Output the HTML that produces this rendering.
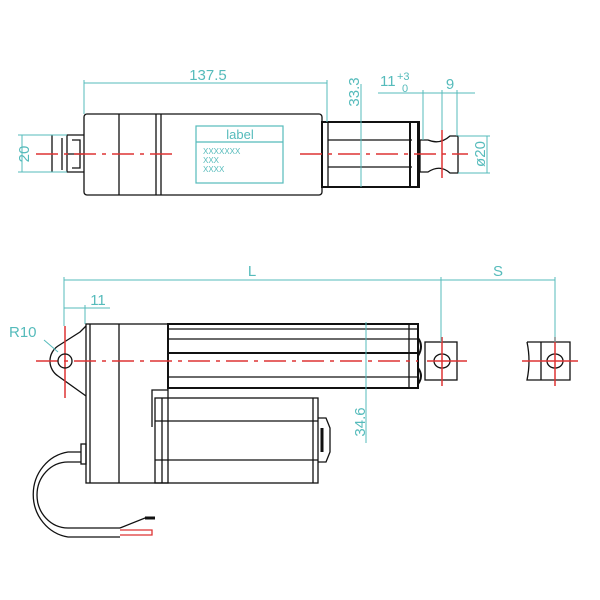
<!DOCTYPE html>
<html><head><style>body{margin:0;background:#fff}svg{display:block}</style></head><body>
<svg width="600" height="600" viewBox="0 0 600 600" xmlns="http://www.w3.org/2000/svg" font-family="Liberation Sans, sans-serif">
<rect width="600" height="600" fill="#fff"/>
<g stroke="#111" stroke-width="1.3" fill="none">
<!-- TOP VIEW -->
<rect x="84" y="114" width="238" height="81" rx="3"/>
<line x1="119" y1="114" x2="119" y2="195"/>
<line x1="156" y1="114" x2="156" y2="195"/>
<line x1="161" y1="114" x2="161" y2="195"/>
<path d="M84 135 H67 V172 H84 M72 140 H80 V168 H72 M62 138 V170 M52 135 V172"/>
<line x1="67" y1="154" x2="84" y2="154"/>
<rect x="322" y="122" width="96" height="65" stroke-width="2"/>
<line x1="328" y1="122" x2="328" y2="187"/>
<line x1="328" y1="140" x2="412" y2="140"/>
<line x1="328" y1="167" x2="412" y2="167"/>
<rect x="410" y="122" width="9" height="65" stroke-width="2"/>
<path d="M420 140 H428 Q440 145 450 136 H458 V173 H450 Q440 164 428 172 H420 Z"/>
<!-- BOTTOM VIEW -->
<path d="M86 326 L80 332 L58 346 A18 18 0 0 0 58 376 L86 396"/>
<rect x="86" y="324" width="82" height="159"/>
<line x1="90" y1="324" x2="90" y2="483"/>
<line x1="119" y1="324" x2="119" y2="483"/>
<rect x="168" y="324" width="250" height="64" stroke-width="2"/>
<line x1="168" y1="329" x2="418" y2="329"/>
<line x1="168" y1="339" x2="418" y2="339"/>
<line x1="168" y1="353" x2="418" y2="353" stroke-width="2"/>
<line x1="168" y1="377" x2="418" y2="377"/>
<line x1="409" y1="324" x2="409" y2="388"/>
<path d="M418 338 Q424 346 418 356 M418 368 Q424 376 418 384" stroke-width="2"/>
<rect x="425" y="342" width="32" height="38"/>
<ellipse cx="442" cy="361" rx="8" ry="7"/>
<rect x="155" y="398" width="163" height="85"/>
<line x1="162" y1="398" x2="162" y2="483"/>
<line x1="313" y1="398" x2="313" y2="483"/>
<line x1="155" y1="421" x2="318" y2="421"/>
<line x1="155" y1="460" x2="318" y2="460"/>
<path d="M152 427 V390 H168"/>
<path d="M318 418 H326 L330 428 V452 L326 462 H318"/>
<line x1="322" y1="428" x2="322" y2="452" stroke-width="3"/>
<path d="M527 342 H570 V380 H527 Q531 361 527 342"/>
<line x1="541" y1="342" x2="541" y2="380"/>
<ellipse cx="555" cy="361" rx="8" ry="7"/>
<!-- cable -->
<rect x="81" y="444" width="5" height="20"/>
<path d="M81 452 H68 A41 43 0 0 0 68 537 H120"/>
<path d="M81 462 H68 A31 33 0 0 0 68 528 H120"/>
<path d="M120 528 L145 518 H155" />
<line x1="145" y1="518" x2="155" y2="518" stroke-width="3"/>
</g>
<path d="M120 530 H152 V535 H120" stroke="#d33" stroke-width="1.3" fill="none"/>
<!-- center lines -->
<g stroke="#d33" stroke-width="1.5" fill="none" stroke-dasharray="22 6 4 6">
<line x1="36" y1="154" x2="176" y2="154"/>
<line x1="300" y1="154" x2="468" y2="154"/>
<line x1="36" y1="361" x2="418" y2="361"/>
</g>
<g stroke="#d33" stroke-width="1.5">
<line x1="65" y1="326" x2="65" y2="398"/><line x1="65" y1="361" x2="65" y2="361"/>
<line x1="427" y1="361" x2="467" y2="361"/><line x1="442" y1="337" x2="442" y2="386"/>
<line x1="522" y1="361" x2="578" y2="361"/><line x1="555" y1="337" x2="555" y2="386"/>
<line x1="442" y1="130" x2="442" y2="178"/>
</g>
<circle cx="65" cy="361" r="7" stroke="#111" stroke-width="1.3" fill="none"/>
<!-- dimensions -->
<g stroke="#5bb" stroke-width="1" fill="none">
<line x1="84" y1="83" x2="327" y2="83"/><line x1="84" y1="80" x2="84" y2="114"/><line x1="327" y1="80" x2="327" y2="122"/>
<line x1="18" y1="135" x2="67" y2="135"/><line x1="18" y1="172" x2="67" y2="172"/><line x1="22" y1="135" x2="22" y2="172"/>
<line x1="361" y1="84" x2="361" y2="187"/>
<line x1="378" y1="93" x2="475" y2="93"/>
<line x1="423" y1="90" x2="423" y2="140"/><line x1="442" y1="90" x2="442" y2="130"/><line x1="457" y1="90" x2="457" y2="136"/>
<line x1="458" y1="136" x2="490" y2="136"/><line x1="458" y1="173" x2="490" y2="173"/><line x1="487" y1="136" x2="487" y2="173"/>
<line x1="64" y1="280" x2="555" y2="280"/><line x1="64" y1="277" x2="64" y2="326"/>
<line x1="441" y1="277" x2="441" y2="342"/><line x1="555" y1="277" x2="555" y2="342"/>
<line x1="64" y1="308" x2="110" y2="308"/><line x1="85" y1="305" x2="85" y2="324"/>
<line x1="44" y1="340" x2="58" y2="352"/>
<line x1="366" y1="322" x2="366" y2="443"/>
</g>
<g fill="#5bb" font-size="15">
<text x="208" y="80" text-anchor="middle">137.5</text>
<text x="25" y="154" text-anchor="middle" transform="rotate(-90 25 154)" dominant-baseline="middle">20</text>
<text x="355" y="92" text-anchor="middle" transform="rotate(-90 355 92)" dominant-baseline="middle">33.3</text>
<text x="380" y="86">11</text><text x="397" y="80" font-size="11">+3</text><text x="402" y="92" font-size="11">0</text>
<text x="450" y="89" text-anchor="middle">9</text>
<text x="481" y="154" text-anchor="middle" transform="rotate(-90 481 154)" dominant-baseline="middle">ø20</text>
<text x="252" y="276" text-anchor="middle">L</text>
<text x="498" y="276" text-anchor="middle">S</text>
<text x="98" y="305" text-anchor="middle">11</text>
<text x="9" y="337">R10</text>
<text x="361" y="422" text-anchor="middle" transform="rotate(-90 361 422)" dominant-baseline="middle">34.6</text>
</g>
<g stroke="#5bb" stroke-width="1.2" fill="none">
<rect x="196" y="126" width="87" height="57"/><line x1="196" y1="142" x2="283" y2="142"/>
</g>
<g fill="#5bb">
<text x="240" y="139" font-size="13" text-anchor="middle">label</text>
<text x="203" y="154" font-size="8">XXXXXXX</text>
<text x="203" y="163" font-size="8">XXX</text>
<text x="203" y="172" font-size="8">XXXX</text>
</g>
</svg>
</body></html>
